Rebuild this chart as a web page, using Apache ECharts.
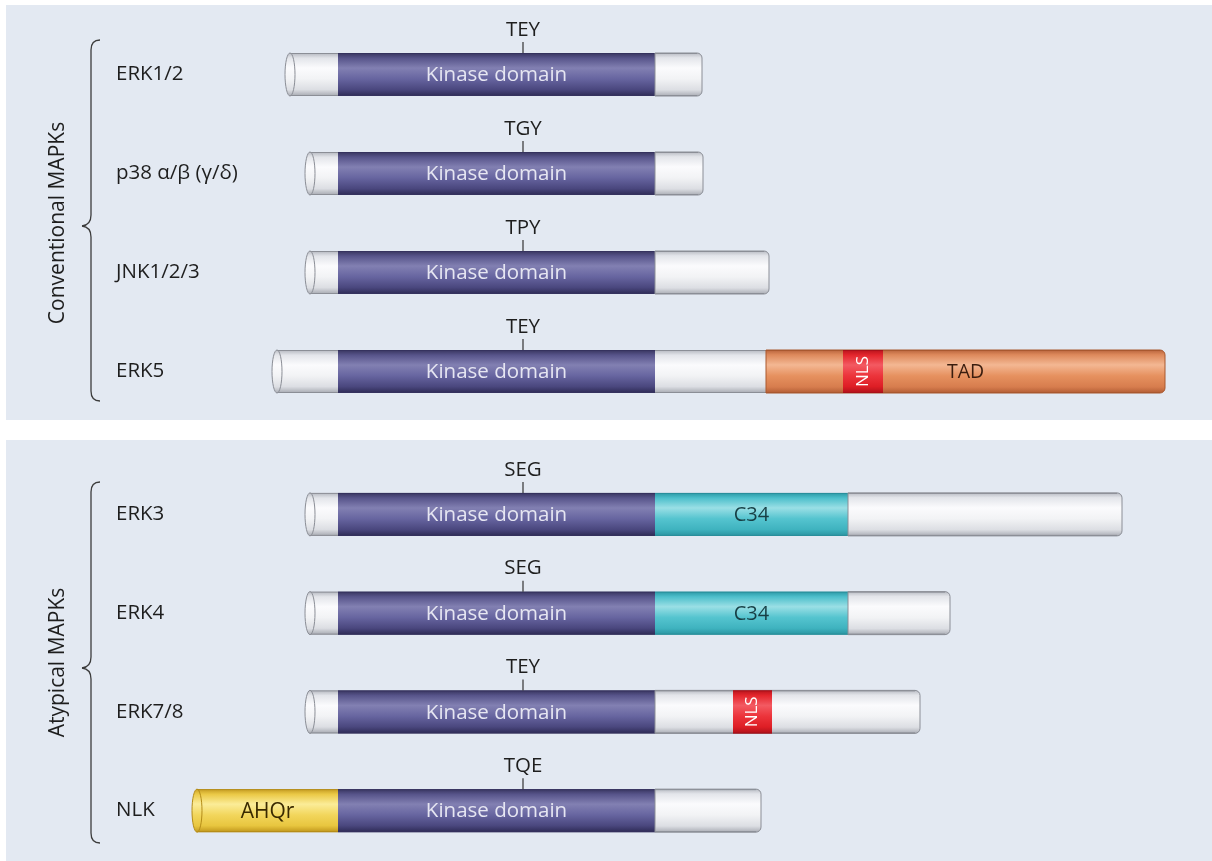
<!DOCTYPE html>
<html>
<head>
<meta charset="utf-8">
<script src="https://cdn.jsdelivr.net/npm/echarts@6/dist/echarts.min.js"></script>
<style>html,body{margin:0;padding:0;background:#fff;}#c{width:1212px;height:861px;}</style>
</head>
<body>
<div id="c"></div>
<script>
// ---- data ----
const conventionalProteins = ['ERK1/2', 'p38 \u03b1/\u03b2 (\u03b3/\u03b4)', 'JNK1/2/3', 'ERK5'];
const atypicalProteins = ['ERK3', 'ERK4', 'ERK7/8', 'NLK'];
const groupNames = ['Conventional MAPKs', 'Atypical MAPKs'];
const conventionalMotifs = ['TEY', 'TGY', 'TPY', 'TEY'];
const atypicalMotifs = ['SEG', 'SEG', 'TEY', 'TQE'];
const motifPosition = 185;
const domainNames = ['', 'Kinase domain', 'C34', 'TAD', 'NLS', 'AHQr'];
// [row, domain, start, end]  (positions relative to kinase-domain start)
const conventionalSegments = [
  [0, 0, -53, 0], [0, 1, 0, 317], [0, 0, 317, 364],
  [1, 0, -33, 0], [1, 1, 0, 317], [1, 0, 317, 365],
  [2, 0, -33, 0], [2, 1, 0, 317], [2, 0, 317, 431],
  [3, 0, -66, 0], [3, 1, 0, 317], [3, 0, 317, 428], [3, 3, 428, 827], [3, 4, 505, 545]
];
const atypicalSegments = [
  [0, 0, -33, 0], [0, 1, 0, 317], [0, 2, 317, 510], [0, 0, 510, 784],
  [1, 0, -33, 0], [1, 1, 0, 317], [1, 2, 317, 510], [1, 0, 510, 612],
  [2, 0, -33, 0], [2, 1, 0, 317], [2, 0, 317, 582], [2, 4, 395, 434],
  [3, 5, -146, 0], [3, 1, 0, 317], [3, 0, 317, 423]
];

// ---- styles ----
const FONT = '"Open Sans", "DejaVu Sans", sans-serif';
const domainStyles = [
  { edge: '#8b8e96', text: '#222', stops: ['#b4b7bf', '#e3e5ea', '#fbfbfd', '#f2f3f5', '#dcdee3', '#a6a9b1'] },
  { edge: '#35325e', text: '#e6e6f2', stops: ['#38355f', '#57548a', '#8280b2', '#6765a0', '#4a477e', '#2e2b55'] },
  { edge: '#2a8e9a', text: '#173f45', stops: ['#2b98a5', '#4dbfcb', '#9adfe5', '#55c4cf', '#3fb3bf', '#2a94a1'] },
  { edge: '#a9582f', text: '#3a1d0e', stops: ['#b5603a', '#dd895b', '#f3b793', '#e6915f', '#d77d4e', '#b05b33'] },
  { edge: '#a8101a', text: '#ffffff', stops: ['#b9141c', '#e4262d', '#f35a62', '#ec343b', '#de1e25', '#b0111a'] },
  { edge: '#b48c18', text: '#3a2a00', stops: ['#c49b22', '#ebc946', '#fbec98', '#f2d65c', '#e8c63f', '#c0961c'] }
];
const domainFont = [0, 20.5, 20, 19.5, 17, 21];
const STOP_POS = [0, 0.12, 0.35, 0.6, 0.85, 1];
function grad(stops) {
  return { type: 'linear', x: 0, y: 0, x2: 0, y2: 1,
    colorStops: stops.map((c, i) => ({ offset: STOP_POS[i], color: c })) };
}

function buildData(segs) {
  const mins = {}, maxs = {};
  segs.forEach(s => {
    mins[s[0]] = Math.min(mins[s[0]] ?? Infinity, s[2]);
    maxs[s[0]] = Math.max(maxs[s[0]] ?? -Infinity, s[3]);
  });
  return segs.map(s => [s[0], s[2], s[3], s[1], s[2] === mins[s[0]] ? 1 : 0, s[3] === maxs[s[0]] ? 1 : 0]);
}

const BAR_H = 43, CAP = 5;
function renderSegment(params, api) {
  const row = api.value(0), s = api.value(1), e = api.value(2), d = api.value(3);
  const first = api.value(4) === 1, last = api.value(5) === 1;
  const a = api.coord([s, row]), b = api.coord([e, row]);
  const st = domainStyles[d];
  const cy = a[1], top = cy - BAR_H / 2, bot = cy + BAR_H / 2;
  const x0 = first ? a[0] + CAP : a[0];
  const x1 = b[0];
  const ch = [];
  ch.push({ type: 'rect', shape: { x: x0, y: top, width: x1 - x0, height: BAR_H, r: last ? [0, 5, 5, 0] : 0 },
    style: { fill: grad(st.stops), stroke: last ? st.edge : null, lineWidth: 1 } });
  ch.push({ type: 'line', shape: { x1: x0, y1: top + 0.5, x2: x1 - (last ? 5 : 0), y2: top + 0.5 }, style: { stroke: st.edge, lineWidth: 1 } });
  ch.push({ type: 'line', shape: { x1: x0, y1: bot - 0.5, x2: x1 - (last ? 5 : 0), y2: bot - 0.5 }, style: { stroke: st.edge, lineWidth: 1 } });
  if (first) {
    ch.push({ type: 'ellipse', shape: { cx: x0, cy: cy, rx: CAP, ry: BAR_H / 2 },
      style: { fill: grad(st.stops), stroke: st.edge, lineWidth: 1 } });
  }
  const name = domainNames[d];
  if (name) {
    const cx = (x0 + x1) / 2;
    const font = domainFont[d] + 'px ' + FONT;
    if (d === 4) {
      ch.push({ type: 'text', x: cx, y: cy, rotation: Math.PI / 2,
        style: { text: name, x: 0, y: 0, align: 'center', verticalAlign: 'middle', fill: st.text, font: font } });
    } else {
      ch.push({ type: 'text', style: { text: name, x: cx, y: cy + 1, align: 'center', verticalAlign: 'middle', fill: st.text, font: font } });
    }
  }
  return { type: 'group', children: ch };
}

function renderMotif(params, api) {
  const row = api.value(0), pos = api.value(1);
  const p = api.coord([pos, row]);
  const top = p[1] - BAR_H / 2;
  return { type: 'group', children: [
    { type: 'line', shape: { x1: p[0], y1: top - 11, x2: p[0], y2: top }, style: { stroke: '#333', lineWidth: 1.2 } },
    { type: 'text', style: { text: api.value(2), x: p[0], y: top - 23, align: 'center', verticalAlign: 'middle', fill: '#1e1e1e', font: '20.5px ' + FONT } }
  ] };
}

const chart = echarts.init(document.getElementById('c'), null, { renderer: 'canvas' });

function yAx(idx, cats, name) {
  return { type: 'category', gridIndex: idx, data: cats, inverse: true,
    axisLine: { show: false }, axisTick: { show: false }, splitLine: { show: false },
    axisLabel: { interval: 0, align: 'left', margin: 22, fontSize: 20.5, color: '#1e1e1e', fontFamily: FONT },
    name: name, nameLocation: 'middle', nameRotate: 90, nameGap: 69,
    nameTextStyle: { fontSize: 21, color: '#1e1e1e', fontFamily: FONT } };
}
function xAx(idx) {
  return { type: 'value', gridIndex: idx, min: -200, max: 860, show: false };
}
function brace(y0, yTip, y1) {
  const x = 91, st = { stroke: '#3c3c3c', lineWidth: 1.3, fill: null };
  return { type: 'group', z: 5, children: [
    { type: 'bezierCurve', shape: { x1: 100, y1: y0, cpx1: x, cpy1: y0, x2: x, y2: y0 + 10 }, style: st },
    { type: 'line', shape: { x1: x, y1: y0 + 10, x2: x, y2: yTip - 11 }, style: st },
    { type: 'bezierCurve', shape: { x1: x, y1: yTip - 11, cpx1: x, cpy1: yTip - 1, x2: 82, y2: yTip }, style: st },
    { type: 'bezierCurve', shape: { x1: 82, y1: yTip, cpx1: x, cpy1: yTip + 1, x2: x, y2: yTip + 11 }, style: st },
    { type: 'line', shape: { x1: x, y1: yTip + 11, x2: x, y2: y1 - 10 }, style: st },
    { type: 'bezierCurve', shape: { x1: x, y1: y1 - 10, cpx1: x, cpy1: y1, x2: 100, y2: y1 }, style: st }
  ] };
}

chart.setOption({
  backgroundColor: '#ffffff',
  animation: false,
  graphic: [
    { type: 'rect', z: -10, shape: { x: 6, y: 5, width: 1206, height: 415 }, style: { fill: '#e3e9f2' } },
    { type: 'rect', z: -10, shape: { x: 6, y: 440, width: 1206, height: 421 }, style: { fill: '#e3e9f2' } },
    brace(40, 226, 401),
    brace(482, 668, 843)
  ],
  grid: [
    { left: 138, right: 14, top: 25, height: 396 },
    { left: 138, right: 14, top: 465, height: 395 }
  ],
  xAxis: [xAx(0), xAx(1)],
  yAxis: [yAx(0, conventionalProteins, groupNames[0]), yAx(1, atypicalProteins, groupNames[1])],
  series: [
    { type: 'custom', xAxisIndex: 0, yAxisIndex: 0, renderItem: renderSegment, encode: { x: [1, 2], y: 0 }, data: buildData(conventionalSegments), silent: true },
    { type: 'custom', xAxisIndex: 1, yAxisIndex: 1, renderItem: renderSegment, encode: { x: [1, 2], y: 0 }, data: buildData(atypicalSegments), silent: true },
    { type: 'custom', xAxisIndex: 0, yAxisIndex: 0, renderItem: renderMotif, encode: { x: 1, y: 0 },
      data: conventionalMotifs.map((m, i) => [i, motifPosition, m]), silent: true },
    { type: 'custom', xAxisIndex: 1, yAxisIndex: 1, renderItem: renderMotif, encode: { x: 1, y: 0 },
      data: atypicalMotifs.map((m, i) => [i, motifPosition, m]), silent: true }
  ]
});
</script>
</body>
</html>
